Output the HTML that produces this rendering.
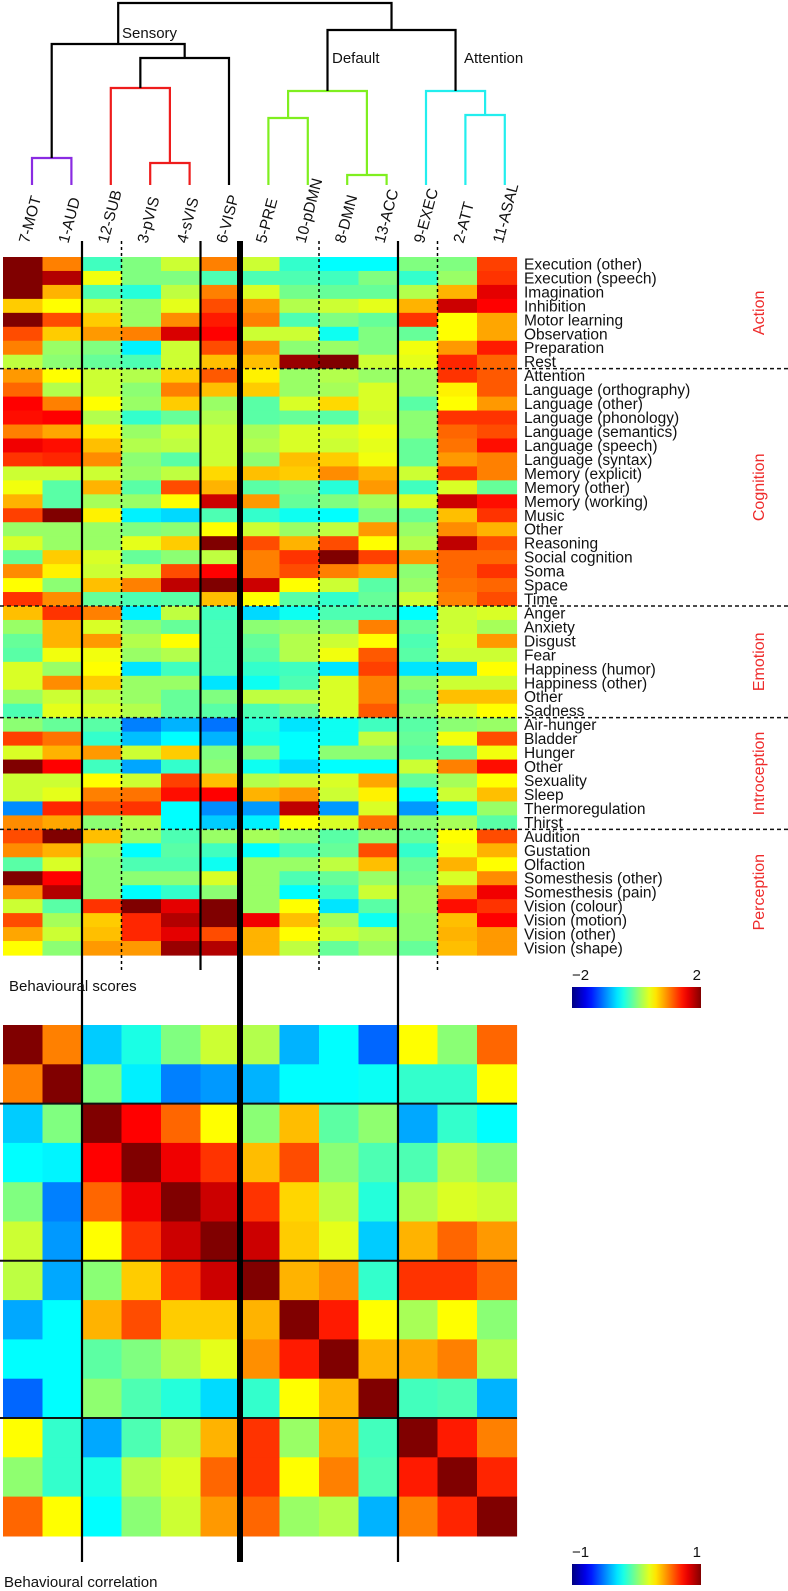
<!DOCTYPE html>
<html><head><meta charset="utf-8">
<style>
html,body{margin:0;padding:0;background:#fff;}
svg{display:block;font-family:"Liberation Sans",Arial,sans-serif;}
</style></head>
<body>
<svg id="fig" width="788" height="1591" viewBox="0 0 788 1591" xmlns="http://www.w3.org/2000/svg"></svg>
<script>
// ---------- data ----------
const networks = ["7-MOT","1-AUD","12-SUB","3-pVIS","4-sVIS","6-VISP","5-PRE","10-pDMN","8-DMN","13-ACC","9-EXEC","2-ATT","11-ASAL"];
const behaviours = ["Execution (other)","Execution (speech)","Imagination","Inhibition","Motor learning","Observation","Preparation","Rest",
"Attention","Language (orthography)","Language (other)","Language (phonology)","Language (semantics)","Language (speech)","Language (syntax)","Memory (explicit)","Memory (other)","Memory (working)","Music","Other","Reasoning","Social cognition","Soma","Space","Time",
"Anger","Anxiety","Disgust","Fear","Happiness (humor)","Happiness (other)","Other","Sadness",
"Air-hunger","Bladder","Hunger","Other","Sexuality","Sleep","Thermoregulation","Thirst",
"Audition","Gustation","Olfaction","Somesthesis (other)","Somesthesis (pain)","Vision (colour)","Vision (motion)","Vision (other)","Vision (shape)"];
const domains = ["Action","Cognition","Emotion","Introception","Perception"];
const domainSizes = [8,17,8,8,9];
const scoreTicks = ["\u22122","2"];
const corrTicks = ["\u22121","1"];
const scores = [
[2,1,-0.25,0,0.3,1,0.3,-0.3,-0.5,-0.5,0,0,1.25],
[2,1.8,0.45,0,0,-0.2,-0.2,-0.2,-0.25,0,-0.3,0.1,1.3],
[2,0.8,-0.2,-0.35,0.25,1,0.35,-0.05,-0.1,-0.1,0.2,0.8,1.6],
[0.7,0.5,0.3,0.1,0.4,1.2,0.9,0.2,0.3,0.4,0.8,1.7,1.5],
[2,1.2,0.7,0.1,0.95,1.4,1,-0.2,0,-0.1,1.3,0.5,0.85],
[1.2,0.7,0.9,1,1.65,1.5,0.3,0.3,-0.45,0,-0.1,0.5,0.85],
[1,0.1,0,-0.55,0.3,1.2,0.95,0.05,0.1,0,0.45,0.9,1.4],
[0.25,0.05,-0.1,-0.2,0.3,0.75,0.75,1.9,2,0.3,0.4,1.35,1.1],
[0.9,0.5,0.3,0.2,0.7,1.15,0.55,0.1,0.2,0.1,0.1,1.3,1.15],
[1.1,0.2,0.3,0.05,1,0.75,0.7,0.1,0.15,0.35,0.1,0.55,1.15],
[1.5,1,0.5,0.1,0.7,0.1,-0.15,0.35,0.65,0.35,-0.15,0.5,0.9],
[1.45,1.5,0.2,-0.3,-0.1,0.2,-0.15,-0.1,-0.15,0.3,0.05,1.3,1.3],
[1,0.85,0.55,0.1,0.3,0.3,0.15,0.35,0.35,0.45,0.05,1.1,1.2],
[1.55,1.45,0.75,0.2,0.25,0.3,0.2,0.35,0.3,0.4,-0.1,1.05,1.45],
[1.3,1.35,0.95,0.05,-0.15,0.3,0.05,0.75,0.7,0.45,-0.1,0.9,1],
[0.3,0.3,0.3,0.1,0.25,0.65,0.75,0.7,0.95,0.8,0.3,1.3,1],
[0.45,-0.15,0.8,-0.15,1.2,0.8,-0.15,-0.05,-0.35,0.9,-0.25,0.35,-0.1],
[0.8,-0.15,0.15,0.1,0.5,1.7,0.9,-0.1,0,0.15,0.35,1.7,1.45],
[1.25,2,0.55,-0.55,-0.65,-0.2,-0.3,-0.45,-0.5,0,-0.1,0.75,1.3],
[0.1,0.1,0.1,0,0.05,0.5,0.3,0.1,0.25,0.9,0.1,0.95,0.8],
[0.35,0.1,0.1,0.4,0.7,2,1.2,0.8,1.2,0.5,0.2,1.75,1.2],
[-0.1,0.7,0.35,-0.1,0.05,0.25,1,1.3,2,1.25,0.9,1.1,1.1],
[0.95,0.55,0.3,0.3,1.2,1.5,1,1.2,1,0.85,0.05,1.1,1.3],
[0.5,0.05,0.75,1,1.75,2,1.7,0.5,0.3,-0.15,0.1,1.05,1.1],
[1.3,0.95,-0.1,-0.2,-0.15,0.75,0.5,-0.15,-0.3,-0.1,0.3,1,1.2],
[0.75,1.3,1,-0.55,0.25,-0.25,-0.65,-0.45,-0.2,-0.2,-0.5,0.3,0.35],
[0.1,0.8,0.35,0.05,-0.1,-0.2,0.05,0.1,0.05,1,-0.1,0.3,0.15],
[-0.1,0.8,0.9,0.2,0.5,-0.2,-0.1,0.2,0.3,0.5,-0.2,0.35,0.9],
[-0.15,0.45,0.45,0.1,0.2,-0.2,-0.15,0.2,0.45,1.15,-0.15,0.3,0.3],
[0.35,0.1,0.5,-0.6,-0.25,-0.2,-0.3,-0.25,-0.6,1.25,-0.6,-0.65,0.5],
[0.35,0.95,0.7,0.1,0.1,-0.6,-0.45,-0.2,0.35,1,0.05,0.3,0.3],
[0.1,0.3,0.25,0.1,-0.1,0,0.25,0.25,0.35,1,-0.05,0.75,0.75],
[-0.2,0.4,0.35,0.2,-0.1,-0.15,-0.2,-0.05,0.35,1.15,0.05,0.35,0.5],
[0.05,-0.1,-0.15,-1,-0.8,-1.05,-0.35,-0.6,-0.45,-0.25,-0.15,0.05,0.1],
[1.25,1.05,-0.3,-0.75,-0.5,-0.8,-0.4,-0.5,-0.45,0.25,-0.1,0.45,1.2],
[0.35,0.8,0.9,0.3,0.7,0,0,-0.5,0.05,0.05,-0.15,-0.1,0.45],
[2,1.5,-0.25,-0.85,-0.3,0.05,-0.45,-0.65,-0.5,-0.5,0.3,1,1.45],
[0.3,0.3,0.5,0.3,1.25,0.75,0.2,0.3,0.35,0.85,-0.1,0.15,0.5],
[0.3,0.4,1,1.05,1.45,1.5,0.8,0.9,0.3,0.55,-0.5,0.3,0.75],
[-0.95,1.35,1.2,1.3,-0.5,-0.95,-0.9,1.75,-0.9,0.35,-0.9,-0.45,0.1],
[0.95,0.85,0.05,0.2,-0.5,-0.7,-0.55,0.5,0.35,1.05,0.05,0.15,-0.15],
[1.2,2,0.75,0.1,-0.2,0.1,0.15,0.05,-0.15,0.05,-0.1,0.5,1.2],
[0.95,0.8,0.1,-0.5,-0.15,-0.25,-0.5,-0.2,-0.1,1.2,-0.3,0.45,0.8],
[-0.15,0.35,0.05,-0.2,-0.2,-0.45,0.1,0.1,0.25,0.75,-0.1,0.8,0.5],
[2,1.5,0.05,0.05,0.05,0.35,0.1,-0.2,-0.1,0.1,-0.05,0.35,0.95],
[0.95,1.8,0.05,-0.5,-0.3,0.05,0.1,-0.5,-0.25,0.3,0.1,0.95,1.55],
[0.3,-0.15,1.3,2,1.6,2,0.1,0.5,-0.6,-0.15,0.1,1.45,1.3],
[1.2,0.15,0.7,1.35,1.8,2,1.55,0.75,0.15,-0.45,0.05,0.75,1.5],
[0.85,0.3,0.75,1.35,1.6,1.2,0.8,0.5,0.3,0.2,0.05,0.8,0.9],
[0.5,0.05,0.9,0.9,1.9,1.8,0.8,0.25,-0.1,0.1,-0.1,0.75,0.9]
];
const corr = [
[1,0.5,-0.35,-0.2,0,0.15,0.1,-0.4,-0.25,-0.55,0.25,0.02,0.55],
[0.5,1,0,-0.28,-0.5,-0.45,-0.4,-0.25,-0.25,-0.23,-0.15,-0.15,0.25],
[-0.35,0,1,0.75,0.55,0.25,0.02,0.38,-0.07,0.03,-0.42,-0.15,-0.25],
[-0.25,-0.27,0.75,1,0.78,0.65,0.38,0.6,0.02,-0.1,-0.1,0.1,0.02],
[0,-0.5,0.55,0.78,1,0.85,0.65,0.33,0.12,-0.18,0.1,0.18,0.15],
[0.15,-0.45,0.25,0.65,0.85,1,0.85,0.35,0.2,-0.35,0.4,0.55,0.45],
[0.12,-0.42,0.02,0.35,0.65,0.85,1,0.4,0.47,-0.15,0.65,0.65,0.55],
[-0.42,-0.25,0.4,0.6,0.35,0.35,0.4,1,0.7,0.25,0.08,0.25,0.02],
[-0.25,-0.25,-0.07,0,0.1,0.2,0.47,0.7,1,0.4,0.42,0.5,0.1],
[-0.55,-0.25,0.03,-0.1,-0.18,-0.32,-0.15,0.25,0.4,1,-0.12,-0.1,-0.4],
[0.25,-0.15,-0.42,-0.1,0.1,0.4,0.65,0.05,0.42,-0.12,1,0.7,0.5],
[0.03,-0.15,-0.2,0.1,0.18,0.55,0.65,0.25,0.5,-0.1,0.7,1,0.68],
[0.55,0.25,-0.25,0.02,0.15,0.45,0.55,0.05,0.1,-0.4,0.5,0.68,1]
];

// ---------- layout ----------
const NS = "http://www.w3.org/2000/svg";
const svg = document.getElementById("fig");
const X0 = 3, CW = 39.5, Y0 = 257, RH = 13.96, CY0 = 1025, CRH = 39.3;
const colX = i => X0 + CW * i;
const rowY = r => Y0 + RH * r;
const corrY = r => CY0 + CRH * r;
function jet(t){
  t = Math.max(0, Math.min(1, t));
  const f = x => Math.round(255 * Math.max(0, Math.min(1, x)));
  const r = f(Math.min(4*t - 1.5, -4*t + 4.5));
  const g = f(Math.min(4*t - 0.5, -4*t + 3.5));
  const b = f(Math.min(4*t + 0.5, -4*t + 2.5));
  return `rgb(${r},${g},${b})`;
}
function mk(tag, attrs, parent){
  const e = document.createElementNS(NS, tag);
  for (const k in attrs) e.setAttribute(k, attrs[k]);
  (parent || svg).appendChild(e);
  return e;
}

// heatmap cells
const gH = mk("g", {});


scores.forEach((row, r) => row.forEach((v, c) => {
  const e = mk("rect", {x: colX(c), y: rowY(r), width: CW + 0.6, height: RH + 0.6, fill: jet((v + 2) / 4)}, gH);
  
  
}));

// correlation cells
const gC = mk("g", {});


corr.forEach((row, r) => row.forEach((v, c) => {
  const e = mk("rect", {x: colX(c), y: corrY(r), width: CW + 0.6, height: CRH + 0.6, fill: jet((v + 1) / 2)}, gC);
  
  
}));

// row labels
behaviours.forEach((b, r) => {
  const t = mk("text", {x: 524, y: rowY(r) + RH/2 + 5.5, "font-size": 15.5, fill: "#111"});
  t.textContent = b;
  
  
});

// domain separators and labels
let acc = 0;
domainSizes.forEach((n, i) => {
  const cy = rowY(acc + n/2);
  const t = mk("text", {x: 0, y: 0, "font-size": 16, fill: "#ee2b2b", "text-anchor": "middle", transform: `translate(764,${cy}) rotate(-90)`});
  t.textContent = domains[i];
  
  
  acc += n;
  if (i < domainSizes.length - 1) {
    const l = mk("line", {x1: 0, x2: 788, y1: rowY(acc), y2: rowY(acc), stroke: "#111", "stroke-width": 1.5, "stroke-dasharray": "4,3"});
    
    
  }
});

// correlation horizontal separators
[2, 6, 10].forEach(k => {
  const l = mk("line", {x1: 0, x2: 517, y1: corrY(k), y2: corrY(k), stroke: "#111", "stroke-width": 2});
  
  
});

// vertical separators
[[2,1562,2.2,null],[5,970,2.2,null],[6,1562,6,null],[10,1562,2.2,null],[3,970,1.5,"3,3"],[8,970,1.5,"3,3"],[11,970,1.5,"3,3"]].forEach(([k, y2, w, d]) => {
  const a = {x1: colX(k), x2: colX(k), y1: 241, y2: y2, stroke: "#000", "stroke-width": w};
  if (d) a["stroke-dasharray"] = d;
  const l = mk("line", a);
  
  
});

// column labels
networks.forEach((n, i) => {
  const cx = colX(i) + CW/2 + 6;
  const t = mk("text", {x: 0, y: 0, "font-size": 15.5, fill: "#111", transform: `translate(${cx},244) rotate(-75)`});
  t.textContent = n;
  
  
});

// dendrogram
const leaf = i => 32 + 39.4 * i;
const gD = mk("g", {fill: "none", "stroke-width": 2.2});


function link(xl, yl, xr, yr, h, col){
  const p = mk("path", {d: `M${xl},${yl}V${h}H${xr}V${yr}`, stroke: col}, gD);
  
  
  return (xl + xr) / 2;
}
const LB = 185;
const mPur = link(leaf(0), LB, leaf(1), LB, 158, "#8a2be2");
const mRi = link(leaf(3), LB, leaf(4), LB, 163, "#ee1c1c");
const mR = link(leaf(2), LB, mRi, 163, 88, "#ee1c1c");
const mV = link(mR, 88, leaf(5), LB, 58, "#000");
const mS = link(mPur, 158, mV, 58, 44, "#000");
const mG1 = link(leaf(6), LB, leaf(7), LB, 118, "#7fef1f");
const mG2 = link(leaf(8), LB, leaf(9), LB, 175, "#7fef1f");
const mG = link(mG1, 118, mG2, 175, 91, "#7fef1f");
const mCy1 = link(leaf(11), LB, leaf(12), LB, 115, "#22eeee");
const mCy = link(leaf(10), LB, mCy1, 115, 91, "#22eeee");
const mDA = link(mG, 91, mCy, 91, 30, "#000");
link(mS, 44, mDA, 30, 3, "#000");
[["Sensory",122,38],["Default",332,63],["Attention",464,63]].forEach(([s,x,y]) => {
  const t = mk("text", {x: x, y: y, "font-size": 15, fill: "#111"});
  t.textContent = s;
  
  
});

// colorbars
const defs = mk("defs", {});
const grad = mk("linearGradient", {id: "jetg", x1: 0, x2: 1, y1: 0, y2: 0}, defs);
for (let i = 0; i <= 20; i++) mk("stop", {offset: i/20, "stop-color": jet(i/20)}, grad);
function colorbar(y, ticks, name){
  const r = mk("rect", {x: 572, y: y, width: 129, height: 21, fill: "url(#jetg)"});
  
  
  const a = mk("text", {x: 572, y: y - 7, "font-size": 15, fill: "#111"});
  a.textContent = ticks[0];
  
  
  const b = mk("text", {x: 701, y: y - 7, "font-size": 15, fill: "#111", "text-anchor": "end"});
  b.textContent = ticks[1];
  
  
}
colorbar(987, scoreTicks, "scores-colorbar");
colorbar(1564, corrTicks, "correlation-colorbar");

// titles
const t1 = mk("text", {x: 9, y: 991, "font-size": 15, fill: "#111"});
t1.textContent = "Behavioural scores";


const t2 = mk("text", {x: 4, y: 1587, "font-size": 15, fill: "#111"});
t2.textContent = "Behavioural correlation";


</script>
</body></html>
